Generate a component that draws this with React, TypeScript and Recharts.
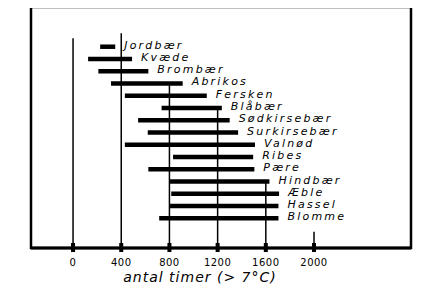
import { ComposedChart, Line, XAxis, YAxis, ReferenceLine, ReferenceArea, LabelList } from "recharts";

// fruit names (top to bottom) and their range of hours above 7 °C
const FRUITS = [
  "Jordbær", "Kvæde", "Brombær", "Abrikos", "Fersken", "Blåbær", "Sødkirsebær",
  "Surkirsebær", "Valnød", "Ribes", "Pære", "Hindbær", "Æble", "Hassel", "Blomme",
];
const START = [225, 125, 210, 315, 430, 735, 540, 620, 430, 830, 625, 805, 815, 805, 715];
const END = [350, 490, 625, 910, 1110, 1235, 1300, 1370, 1510, 1495, 1505, 1630, 1710, 1705, 1705];

const TICKS = [0, 400, 800, 1200, 1600, 2000];
// row (1 = top fruit) where each vertical guide starts
const GUIDE_FROM = [0.3, -0.1, 3.9, 5.9, 12.1, 16.1];

const X_DOMAIN: [number, number] = [-349, 2805];
const Y_DOMAIN: [number, number] = [-2.24, 17.42];

const HAND = "'DejaVu Sans', sans-serif";

const AxisTick = (props: any) => {
  const { x, y, payload } = props;
  return (
    <g>
      <rect x={x - 2} y={y - 5} width={4} height={9} fill="#000" />
      <text x={x} y={y + 18} textAnchor="middle" fontSize={10} fontFamily={HAND} letterSpacing={0.5} fill="#000">
        {payload.value}
      </text>
    </g>
  );
};

export default function App() {
  return (
    <div style={{ margin: "-8px 0 0 -8px", background: "#fff", width: 441, height: 287 }}>
      <ComposedChart width={441} height={287} margin={{ top: 7, right: 30, bottom: 1, left: 31 }}>
        <XAxis
          type="number"
          dataKey="x"
          domain={X_DOMAIN}
          allowDataOverflow
          ticks={TICKS}
          interval={0}
          height={38}
          tickSize={0}
          tickMargin={0}
          tickLine={false}
          axisLine={{ stroke: "#000", strokeWidth: 3 }}
          tick={<AxisTick />}
          label={{
            content: (p: any) => {
              const vb = p.viewBox;
              return (
                <text
                  x={vb.x + vb.width / 2 - 21}
                  y={vb.y + 34}
                  textAnchor="middle"
                  fontSize={14}
                  fontStyle="italic"
                  fontFamily={HAND}
                  letterSpacing={1}
                  fill="#000"
                >
                  antal timer (&gt; 7°C)
                </text>
              );
            },
          }}
        />
        <YAxis type="number" dataKey="y" domain={Y_DOMAIN} allowDataOverflow reversed hide />
        <ReferenceArea
          x1={X_DOMAIN[0]}
          x2={X_DOMAIN[1]}
          y1={Y_DOMAIN[0]}
          y2={Y_DOMAIN[1]}
          fill="none"
          fillOpacity={0}
          stroke="#000"
          strokeWidth={2.5}
        />
        {TICKS.map((t, i) => (
          <ReferenceLine
            key={t}
            segment={[
              { x: t, y: GUIDE_FROM[i] },
              { x: t, y: Y_DOMAIN[1] },
            ]}
            stroke="#000"
            strokeWidth={1.5}
          />
        ))}
        {FRUITS.map((name, i) => (
          <Line
            key={name}
            data={[
              { x: START[i], y: i + 1 },
              { x: END[i], y: i + 1 },
            ]}
            dataKey="y"
            stroke="#000"
            strokeWidth={4.5}
            dot={false}
            activeDot={false}
            isAnimationActive={false}
          >
            <LabelList
              dataKey="y"
              content={(p: any) =>
                p.index === 1 ? (
                  <text
                    x={p.x + 9}
                    y={p.y + 2}
                    fontSize={11}
                    fontStyle="italic"
                    fontFamily={HAND}
                    letterSpacing={2.2}
                    fill="#000"
                  >
                    {name}
                  </text>
                ) : null
              }
            />
          </Line>
        ))}
      </ComposedChart>
    </div>
  );
}
